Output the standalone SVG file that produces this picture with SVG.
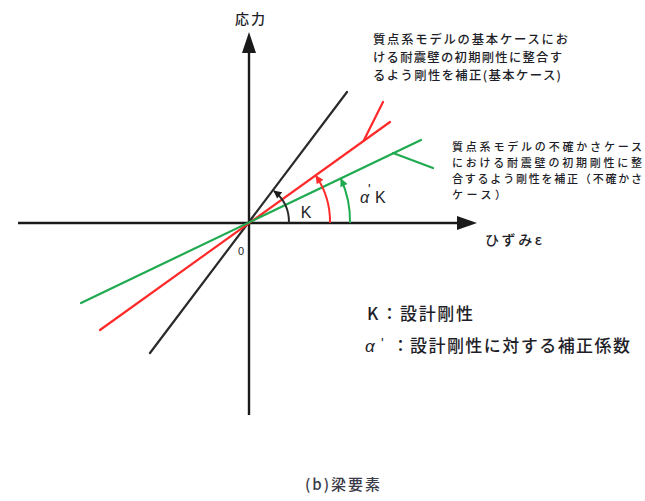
<svg xmlns="http://www.w3.org/2000/svg" width="645" height="501" viewBox="0 0 645 501">
<style>
.ax{stroke:#1a1a1a;stroke-width:2.4;fill:none}
.ln{stroke-width:2.2;fill:none;stroke-linecap:round}
.arc{stroke-width:2;fill:none}
.blk{stroke:#2a2a2a}
.red{stroke:#ff2a2a}
.grn{stroke:#1faa50}
.jp{font-family:"Noto Sans CJK JP","Noto Sans",sans-serif;fill:#1e1e28;font-weight:500}
.lat{font-family:"Liberation Sans","Noto Sans CJK JP",sans-serif;fill:#1e1e28}
</style>
<defs>
<marker id="ahK" viewBox="0 0 10 10" refX="9" refY="5" markerWidth="9" markerHeight="8" markerUnits="userSpaceOnUse" orient="auto"><path d="M0,0 L10,5 L0,10 z" fill="#1a1a1a"/></marker>
<marker id="ahR" viewBox="0 0 10 10" refX="9" refY="5" markerWidth="9" markerHeight="8" markerUnits="userSpaceOnUse" orient="auto"><path d="M0,0 L10,5 L0,10 z" fill="#ff2a2a"/></marker>
<marker id="ahG" viewBox="0 0 10 10" refX="9" refY="5" markerWidth="9" markerHeight="8" markerUnits="userSpaceOnUse" orient="auto"><path d="M0,0 L10,5 L0,10 z" fill="#1faa50"/></marker>
</defs>
<rect width="645" height="501" fill="#ffffff"/>

<g id="axes">
<line class="ax" x1="249" y1="50" x2="249" y2="415"/>
<polygon points="249,32 242,53 256,53" fill="#1a1a1a"/>
<line class="ax" x1="18" y1="223" x2="460" y2="223"/>
<polygon points="477,223 457,216 457,230" fill="#1a1a1a"/>
</g>

<g id="connectors">
<line class="ln blk" x1="150" y1="353" x2="347" y2="92"/>
<line class="ln red" x1="100" y1="330" x2="390" y2="122"/>
<line class="ln red" x1="364" y1="140" x2="383" y2="102"/>
<line class="ln grn" x1="81" y1="303" x2="421" y2="140"/>
<line class="ln grn" x1="393" y1="153" x2="433" y2="168"/>
<path class="arc blk" d="M289,223 A40,40 0 0 0 274,191" marker-end="url(#ahK)"/>
<path class="arc red" d="M330,223 A81,81 0 0 0 316,176" marker-end="url(#ahR)"/>
<path class="arc grn" d="M350,223 A101,101 0 0 0 341,179" marker-end="url(#ahG)"/>
</g>

<g id="axis-labels">
<text class="jp" x="235" y="24" font-size="14" textLength="30" lengthAdjust="spacing">応力</text>
<text class="jp" x="485" y="245" font-size="14" textLength="57" lengthAdjust="spacing">ひずみε</text>
<text class="lat" x="241" y="255" font-size="11" text-anchor="middle">0</text>
<text class="lat" x="306" y="218" font-size="16" text-anchor="middle">K</text>
<text class="lat" x="360" y="203" font-size="16" font-style="italic">α</text>
<text class="lat" x="368" y="194" font-size="14">'</text>
<text class="lat" x="375" y="203" font-size="16">K</text>
</g>

<g id="note-base">
<text class="jp" x="373" y="44" font-size="12.3" textLength="195" lengthAdjust="spacing">質点系モデルの基本ケースにお</text>
<text class="jp" x="373" y="62" font-size="12.3" textLength="189" lengthAdjust="spacing">ける耐震壁の初期剛性に整合す</text>
<text class="jp" x="373" y="80" font-size="12.3" textLength="188" lengthAdjust="spacing">るよう剛性を補正(基本ケース)</text>
</g>

<g id="note-uncertain">
<text class="jp" x="452" y="151" font-size="11" textLength="190" lengthAdjust="spacing">質点系モデルの不確かさケース</text>
<text class="jp" x="452" y="167" font-size="11" textLength="190" lengthAdjust="spacing">における耐震壁の初期剛性に整</text>
<text class="jp" x="452" y="183" font-size="11" textLength="190" lengthAdjust="spacing">合するよう剛性を補正（不確かさ</text>
<text class="jp" x="452" y="199" font-size="11" textLength="54" lengthAdjust="spacing">ケース）</text>
</g>

<g id="legend">
<text class="jp" x="367" y="320" font-size="17">K</text>
<text class="jp" x="381" y="320" font-size="17">：</text>
<text class="jp" x="400" y="320" font-size="17" textLength="73" lengthAdjust="spacing">設計剛性</text>
<text class="lat" x="365" y="352" font-size="17" font-style="italic">α</text>
<text class="lat" x="381" y="348" font-size="14">'</text>
<text class="jp" x="392" y="352" font-size="17">：</text>
<text class="jp" x="410" y="352" font-size="17" textLength="220" lengthAdjust="spacing">設計剛性に対する補正係数</text>
</g>

<g id="caption">
<text class="jp" x="305" y="490" font-size="15" letter-spacing="2" style="fill:#3a3a48">(b)梁要素</text>
</g>
</svg>
